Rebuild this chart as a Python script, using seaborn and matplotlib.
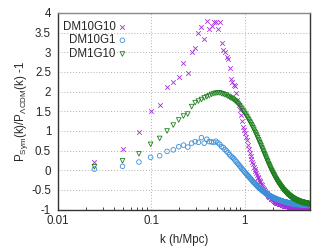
#!/usr/bin/env python3
# -*- coding: utf-8 -*-
"""
plot.py

Purpose:
    Ratio of symmetron to LCDM power spectra for three models
"""
###########################################################
### Imports
import numpy as np
import pandas as pd
import seaborn as sns
import matplotlib.pyplot as plt

###########################################################
### Data
k_fund = 0.02454  # fundamental mode, h/Mpc
mode_index = np.arange(1, 204)

dm10g10 = [
    0.20, 0.54, 0.98, 1.52, 1.66, 2.12, 2.25, 2.36, 2.73, 2.48,
    3.01, 3.11, 3.48, 3.65, 3.33, 3.80, 3.59, 3.67, 3.77, 3.78,
    3.59, 3.78, 3.24, 3.06, 3.01, 2.89, 2.82, 2.59, 2.31, 2.25,
    2.17, 2.14, 1.96, 1.80, 1.66, 1.53, 1.40, 1.25, 1.11, 1.03,
    0.94, 0.85, 0.77, 0.65, 0.54, 0.43, 0.36, 0.28, 0.21, 0.15,
    0.09, 0.03, -0.02, -0.07, -0.12, -0.16, -0.20, -0.24, -0.28, -0.31,
    -0.35, -0.38, -0.42, -0.45, -0.48, -0.50, -0.53, -0.55, -0.57, -0.59,
    -0.61, -0.63, -0.65, -0.66, -0.68, -0.69, -0.71, -0.72, -0.73, -0.74,
    -0.75, -0.76, -0.77, -0.78, -0.79, -0.80, -0.80, -0.81, -0.82, -0.82,
    -0.83, -0.84, -0.84, -0.85, -0.85, -0.86, -0.86, -0.87, -0.87, -0.87,
    -0.88, -0.88, -0.88, -0.89, -0.89, -0.89, -0.90, -0.90, -0.90, -0.90,
    -0.91, -0.91, -0.91, -0.91, -0.92, -0.92, -0.92, -0.92, -0.92, -0.93,
] + [-0.93] * 11 + [-0.94] * 19 + [-0.95] * 15 + [-0.96] * 20 + [-0.97] * 18

dm10g1 = [
    0.03, 0.10, 0.21, 0.33, 0.37, 0.48, 0.52, 0.60, 0.64, 0.59,
    0.69, 0.73, 0.71, 0.83, 0.69, 0.79, 0.73, 0.72, 0.71, 0.74,
    0.70, 0.66, 0.60, 0.58, 0.53, 0.49, 0.45, 0.40, 0.36, 0.33,
    0.30, 0.26, 0.22, 0.18, 0.15, 0.11, 0.08, 0.04, 0.01, -0.02,
    -0.05, -0.08, -0.11, -0.14, -0.16, -0.19, -0.21, -0.24, -0.26, -0.29,
    -0.31, -0.33, -0.35, -0.37, -0.39, -0.41, -0.43, -0.44, -0.46, -0.47,
    -0.49, -0.50, -0.52, -0.53, -0.54, -0.55, -0.57, -0.58, -0.59, -0.60,
    -0.61, -0.62, -0.63, -0.63, -0.64, -0.65, -0.66, -0.66, -0.67, -0.68,
    -0.68, -0.69, -0.70, -0.70, -0.71, -0.71, -0.72, -0.72, -0.73, -0.73,
    -0.74, -0.74, -0.75, -0.75, -0.75, -0.76, -0.76, -0.77, -0.77, -0.77,
    -0.78, -0.78, -0.78, -0.79, -0.79, -0.79, -0.80, -0.80, -0.80, -0.80,
    -0.81, -0.81, -0.81, -0.81, -0.82, -0.82, -0.82, -0.82, -0.82, -0.83,
    -0.83, -0.83, -0.83, -0.83, -0.83, -0.84, -0.84, -0.84, -0.84, -0.84,
    -0.84, -0.85, -0.85, -0.85, -0.85, -0.85, -0.85, -0.85, -0.85, -0.85,
] + [-0.86] * 10 + [-0.87] * 15 + [-0.88] * 20 + [-0.89] * 18

dm1g10 = [
    0.09, 0.24, 0.42, 0.66, 0.81, 1.00, 1.15, 1.28, 1.38, 1.43,
    1.62, 1.72, 1.76, 1.80, 1.84, 1.87, 1.90, 1.93, 1.95, 1.96,
    1.97, 1.97, 1.95, 1.94, 1.92, 1.91, 1.88, 1.86, 1.84, 1.82,
    1.80, 1.77, 1.74, 1.71, 1.68, 1.64, 1.60, 1.56, 1.52, 1.48,
    1.44, 1.40, 1.36, 1.32, 1.28, 1.24, 1.20, 1.16, 1.12, 1.08,
    1.04, 0.99, 0.95, 0.91, 0.87, 0.83, 0.78, 0.74, 0.70, 0.66,
    0.62, 0.58, 0.54, 0.50, 0.46, 0.42, 0.39, 0.35, 0.31, 0.28,
    0.24, 0.21, 0.17, 0.14, 0.11, 0.08, 0.05, 0.02, -0.01, -0.03,
    -0.06, -0.08, -0.11, -0.13, -0.15, -0.18, -0.20, -0.22, -0.24, -0.26,
    -0.28, -0.30, -0.31, -0.33, -0.35, -0.36, -0.38, -0.39, -0.41, -0.42,
    -0.44, -0.45, -0.46, -0.48, -0.49, -0.50, -0.51, -0.52, -0.53, -0.54,
    -0.55, -0.56, -0.57, -0.58, -0.59, -0.60, -0.61, -0.61, -0.62, -0.63,
    -0.64, -0.64, -0.65, -0.66, -0.66, -0.67, -0.68, -0.68, -0.69, -0.69,
    -0.70, -0.70, -0.71, -0.71, -0.72, -0.72, -0.73, -0.73, -0.74, -0.74,
    -0.74, -0.75, -0.75, -0.75, -0.76, -0.76, -0.76, -0.77, -0.77, -0.77,
    -0.78, -0.78, -0.78, -0.78, -0.79, -0.79, -0.79, -0.79, -0.80, -0.80,
    -0.80, -0.80, -0.80, -0.81, -0.81, -0.81, -0.81, -0.81, -0.82, -0.82,
    -0.82, -0.82, -0.82, -0.82, -0.83, -0.83, -0.83, -0.83, -0.83, -0.83,
    -0.83, -0.84, -0.84, -0.84, -0.84, -0.84, -0.84, -0.84, -0.84, -0.85,
] + [-0.85] * 13

models = ["DM10G10", "DM10G1", "DM1G10"]
colors = ["#a62ee0", "#3d8fd8", "#1f7f1f"]
markers = ["x", "o", "v"]

y_ticks = [-1, -0.5, 0, 0.5, 1, 1.5, 2, 2.5, 3, 3.5, 4]
y_tick_labels = ["-1", "-0.5", "0", "0.5", "1", "1.5", "2", "2.5", "3", "3.5", "4"]
x_ticks = [0.01, 0.1, 1]
x_tick_labels = ["0.01", "0.1", "1"]


###########################################################
### main
def main():
    sns.set_style("white")
    plt.rcParams['font.family'] = ['Liberation Sans', 'DejaVu Sans']
    plt.rcParams['mathtext.fontset'] = 'custom'
    plt.rcParams['mathtext.rm'] = 'Liberation Sans'
    plt.rcParams['mathtext.it'] = 'Liberation Sans:italic'
    fs = 8.3

    k = k_fund * mode_index
    df = pd.concat([
        pd.DataFrame({'k': k, 'ratio': vals, 'model': name})
        for name, vals in zip(models, [dm10g10, dm10g1, dm1g10])
    ])

    fig = plt.figure(figsize=(3.32, 2.48), dpi=100)
    ax = fig.add_axes([0.1747, 0.1548, 0.7590, 0.7928])

    for name, c, m in zip(models, colors, markers):
        sub = df[df.model == name]
        if m == "x":
            sns.scatterplot(data=sub, x='k', y='ratio', ax=ax, marker=m,
                            color=c, s=11, linewidth=0.6, label=name)
        else:
            sns.scatterplot(data=sub, x='k', y='ratio', ax=ax, marker=m,
                            facecolors='none', edgecolor=c, color=c, s=11,
                            linewidth=0.6, label=name)

    ax.set_xscale('log')
    ax.set_xlim(0.01, 5)
    ax.set_ylim(-1, 4)
    ax.set_xticks(x_ticks)
    ax.set_xticklabels(x_tick_labels, fontsize=fs)
    ax.set_yticks(y_ticks)
    ax.set_yticklabels(y_tick_labels, fontsize=fs)
    ax.grid(True, which='major', color='#b0b0b0', linestyle=(0, (1, 2)), linewidth=0.7)
    ax.tick_params(axis='y', which='major', direction='out', length=3, width=0.7, pad=2)
    ax.tick_params(axis='x', which='major', direction='in', length=4, width=0.7, pad=4)
    ax.tick_params(axis='x', which='minor', direction='in', length=2.5, width=0.6, bottom=True)
    for sp in ax.spines.values():
        sp.set_color('#333333')
        sp.set_linewidth(1.0)
    ax.spines['top'].set_color('#888888')

    ax.set_xlabel('k (h/Mpc)', fontsize=fs, labelpad=5)
    ax.set_ylabel(r'P$_{\rm Sym}$(k)/P$_{\Lambda\rm CDM}$(k) -1', fontsize=fs, labelpad=1)

    ax.legend(loc='upper left', bbox_to_anchor=(0.0, 0.985), frameon=False,
              markerfirst=False, fontsize=fs, handletextpad=0.2,
              labelspacing=0.15, borderaxespad=0.2, handlelength=0.8,
              borderpad=0.2)

    plt.savefig('out.png', dpi=100)


###########################################################
### start main
if __name__ == "__main__":
    main()
